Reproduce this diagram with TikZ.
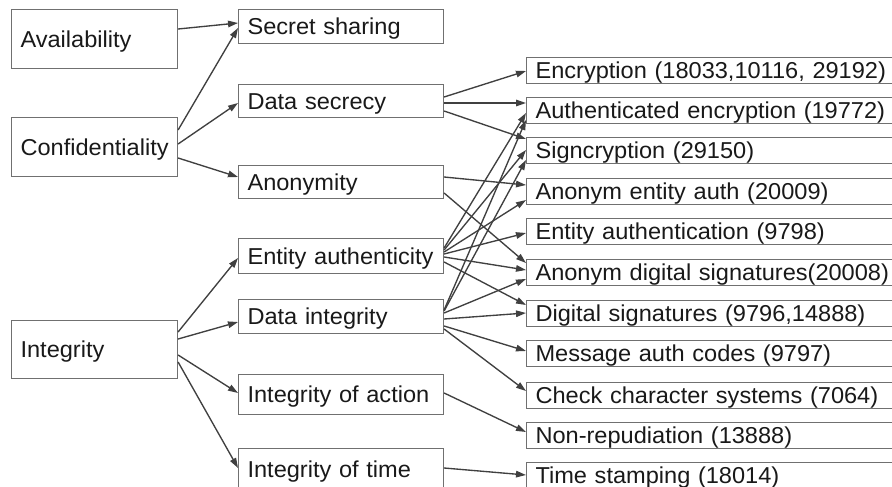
\documentclass[tikz,border=0pt]{standalone}
\usepackage{fontspec}
\setmainfont{Liberation Sans}[FakeStretch=1.025]
\usetikzlibrary{arrows.meta}
\definecolor{boxc}{HTML}{707070}
\definecolor{linec}{HTML}{404040}
\newcommand\lnk[4]{\draw[ar] ([yshift=-#2pt]#1.north east) -- ([yshift=-#4pt]#3.north west);}
\begin{document}
\begin{tikzpicture}[x=1pt,y=1pt,
  bx/.style={draw=boxc, line width=1.1pt, rectangle, anchor=north west, inner xsep=9pt, inner ysep=0pt,
    align=left, text height=16.5pt, text depth=0pt, font=\fontsize{23}{27}\selectfont, text=black!90},
  lbox/.style={bx, text width=148pt, minimum width=166pt},
  mbox/.style={bx, text width=187pt, minimum width=205pt},
  rbox/.style={bx, text width=382pt, minimum width=400pt, minimum height=26pt},
  ar/.style={draw=linec, line width=1.35pt, -{Triangle[length=10pt,width=6.5pt]}},
]
\useasboundingbox (0,0) rectangle (892,-487);
\clip (0,0) rectangle (892,-487);
\fill[white] (0,0) rectangle (892,-487);

% left column
\node[lbox, minimum height=59pt] (av) at (11,-9) {Availability};
\node[lbox, minimum height=59pt] (conf) at (11,-117) {Confidentiality};
\node[lbox, minimum height=58pt] (integ) at (11,-320) {Integrity};

% middle column
\node[mbox, minimum height=34pt] (ss) at (238,-9) {Secret sharing};
\node[mbox, minimum height=33pt] (dsec) at (238,-84) {Data secrecy};
\node[mbox, minimum height=33pt] (anon) at (238,-165) {Anonymity};
\node[mbox, minimum height=35pt] (eauth) at (238,-238) {Entity authenticity};
\node[mbox, minimum height=34pt] (dint) at (238,-299) {Data integrity};
\node[mbox, minimum height=40pt] (iact) at (238,-374) {Integrity of action};
\node[mbox, minimum height=41pt] (itime) at (238,-448) {Integrity of time};

% right column
\node[rbox] (enc) at (526,-57) {Encryption (18033,10116, 29192)};
\node[rbox] (aenc) at (526,-97) {Authenticated encryption (19772)};
\node[rbox] (sign) at (526,-137) {Signcryption (29150)};
\node[rbox] (aea) at (526,-178) {Anonym entity auth (20009)};
\node[rbox] (ea) at (526,-218) {Entity authentication (9798)};
\node[rbox] (ads) at (526,-259) {Anonym digital signatures(20008)};
\node[rbox] (dsig) at (526,-300) {Digital signatures (9796,14888)};
\node[rbox] (mac) at (526,-340) {Message auth codes (9797)};
\node[rbox] (ccs) at (526,-382) {Check character systems (7064)};
\node[rbox] (nr) at (526,-422) {Non-repudiation (13888)};
\node[rbox] (ts) at (526,-462) {Time stamping (18014)};

% left -> middle
\lnk{av}{20}{ss}{14}
\lnk{conf}{13}{ss}{19}
\lnk{conf}{27}{dsec}{19}
\lnk{conf}{41}{anon}{12}
\lnk{integ}{12}{eauth}{20}
\lnk{integ}{19}{dint}{23}
\lnk{integ}{35}{iact}{19}
\lnk{integ}{42}{itime}{20}

% middle -> right
\lnk{dsec}{13}{enc}{14}
\lnk{dsec}{19}{aenc}{6}
\lnk{dsec}{27}{sign}{2}
\lnk{anon}{12}{aea}{7}
\lnk{anon}{28}{ads}{4}
\lnk{eauth}{10}{aenc}{16}
\lnk{eauth}{12}{sign}{13}
\lnk{eauth}{14}{aea}{22}
\lnk{eauth}{16}{ea}{15}
\lnk{eauth}{19}{ads}{11}
\lnk{eauth}{24}{dsig}{5}
\lnk{dint}{11}{aenc}{23}
\lnk{dint}{12}{sign}{23}
\lnk{dint}{14}{ads}{20}
\lnk{dint}{20}{dsig}{13}
\lnk{dint}{27}{mac}{11}
\lnk{dint}{30}{ccs}{9}
\lnk{iact}{19}{nr}{10}
\lnk{itime}{20}{ts}{13}
\end{tikzpicture}
\end{document}
